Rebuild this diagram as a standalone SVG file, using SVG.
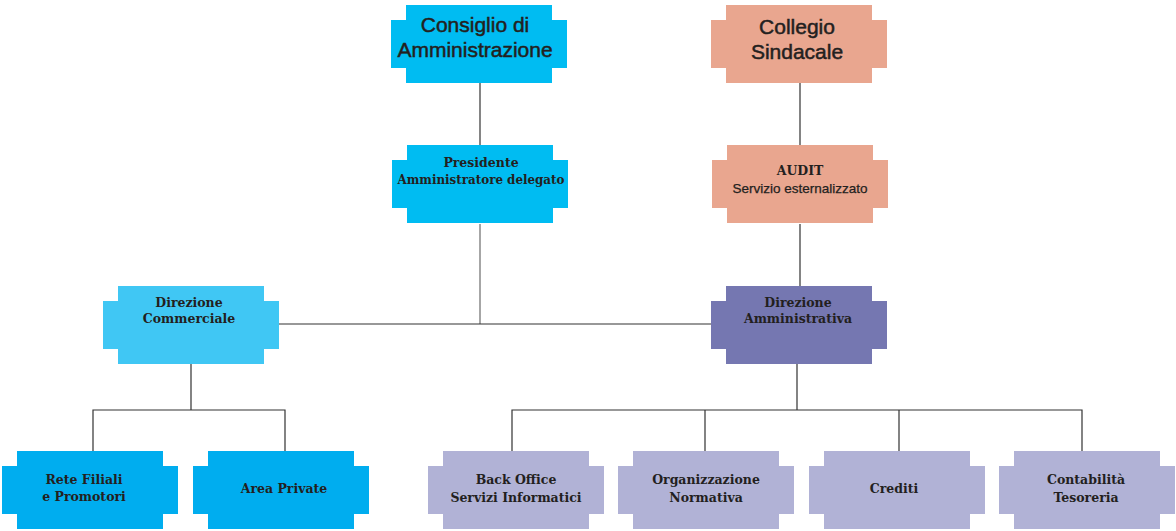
<svg xmlns="http://www.w3.org/2000/svg" xmlns:xlink="http://www.w3.org/1999/xlink" width="1176" height="531" viewBox="0 0 1176 531">
<style>
.cyan{fill:#00bcf2}
.salmon{fill:#e9a68f}
.light{fill:#40c7f4}
.blue{fill:#00adef}
.violet{fill:#7577b1}
.lilac{fill:#b1b2d6}
.t{font-family:"Liberation Sans",Arial,sans-serif;font-size:21px;fill:#231f20;stroke:#231f20;stroke-width:0.5;text-anchor:middle}
.s{font-family:"DejaVu Serif",serif;font-weight:bold;font-size:12.5px;fill:#231f20;text-anchor:middle}
.n{font-family:"Liberation Sans",Arial,sans-serif;font-size:13.5px;fill:#231f20;stroke:#231f20;stroke-width:0.25;text-anchor:middle}
.c{stroke:#333;stroke-width:1.2;fill:none}
.g{stroke:#888;stroke-width:1.5;fill:none}
</style>
<defs>
<path id="box" d="M15,0 h146 v15 h15 v48 h-15 v15 h-146 v-15 h-15 v-48 h15 z"/>
</defs>
<g id="connectors">
<path class="c" d="M480,83 V145"/>
<path class="g" d="M480,224 V324"/>
<path class="c" d="M800,83 V145 M800,224 V286"/>
<path class="c" d="M279,324 H711"/>
<path class="c" d="M191,364 V410 M93,451 V410 H285 V451"/>
<path class="c" d="M797,364 V410 M512,451 V410 H1082 V451 M705,410 V451 M899,410 V451"/>
</g>
<g id="consiglio">
<use xlink:href="#box" x="391" y="5" class="cyan"/>
<text class="t" x="475" y="32">Consiglio di</text>
<text class="t" x="475" y="57">Amministrazione</text>
</g>
<g id="collegio">
<use xlink:href="#box" x="711" y="5" class="salmon"/>
<text class="t" x="797" y="34">Collegio</text>
<text class="t" x="797" y="59">Sindacale</text>
</g>
<g id="presidente">
<use xlink:href="#box" x="392" y="145" class="cyan"/>
<text class="s" x="481" y="167">Presidente</text>
<text class="s" x="481" y="184" textLength="167" lengthAdjust="spacingAndGlyphs">Amministratore delegato</text>
</g>
<g id="audit">
<use xlink:href="#box" x="712" y="145" class="salmon"/>
<text class="s" x="800" y="175">AUDIT</text>
<text class="n" x="800" y="193">Servizio esternalizzato</text>
</g>
<g id="dir-commerciale">
<use xlink:href="#box" x="103" y="286" class="light"/>
<text class="s" x="189" y="307">Direzione</text>
<text class="s" x="189" y="323">Commerciale</text>
</g>
<g id="dir-amministrativa">
<use xlink:href="#box" x="711" y="286" class="violet"/>
<text class="s" x="798" y="307">Direzione</text>
<text class="s" x="798" y="323">Amministrativa</text>
</g>
<g id="rete">
<use xlink:href="#box" x="2" y="451" class="blue"/>
<text class="s" x="84" y="484">Rete Filiali</text>
<text class="s" x="84" y="501">e Promotori</text>
</g>
<g id="area-private">
<use xlink:href="#box" x="193" y="451" class="blue"/>
<text class="s" x="284" y="493">Area Private</text>
</g>
<g id="back-office">
<use xlink:href="#box" x="428" y="451" class="lilac"/>
<text class="s" x="516" y="484">Back Office</text>
<text class="s" x="516" y="502">Servizi Informatici</text>
</g>
<g id="organizzazione">
<use xlink:href="#box" x="618" y="451" class="lilac"/>
<text class="s" x="706" y="484">Organizzazione</text>
<text class="s" x="706" y="502">Normativa</text>
</g>
<g id="crediti">
<use xlink:href="#box" x="809" y="451" class="lilac"/>
<text class="s" x="894" y="493">Crediti</text>
</g>
<g id="contabilita">
<use xlink:href="#box" x="999" y="451" class="lilac"/>
<text class="s" x="1086" y="484">Contabilità</text>
<text class="s" x="1086" y="502">Tesoreria</text>
</g>
</svg>
